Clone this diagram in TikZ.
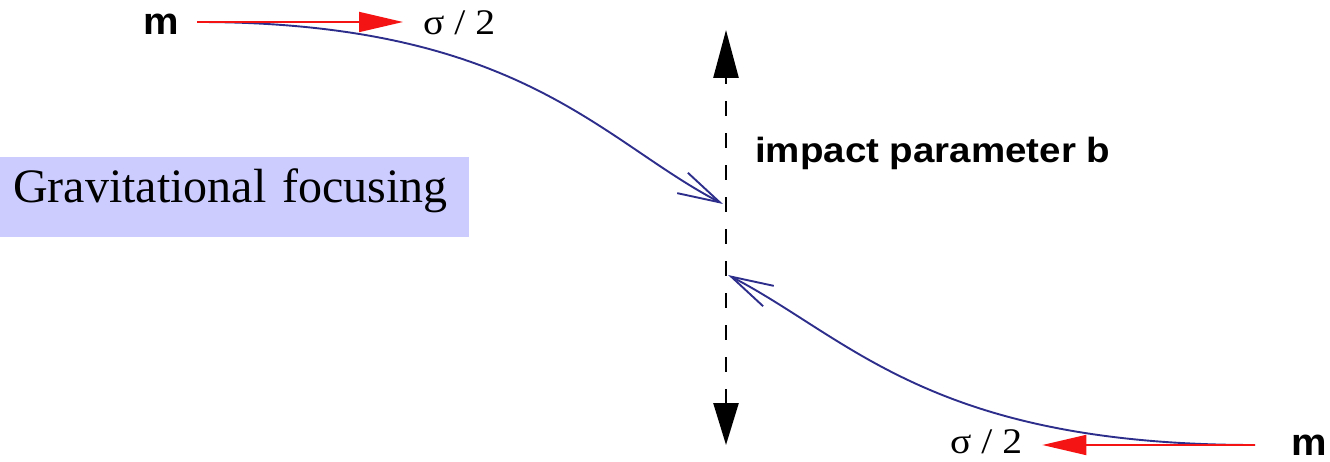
\documentclass[tikz,border=0pt]{standalone}
\usepackage{fontspec}
\setmainfont{Liberation Serif}
\setsansfont{Liberation Sans}
\usepackage{tikz}
\usetikzlibrary{calc,positioning,arrows.meta}
\definecolor{orbitBlue}{RGB}{45,45,140}
\definecolor{velRed}{RGB}{245,20,20}
\definecolor{focusBg}{RGB}{204,204,255}

\tikzset{
  mass/.style={font=\fontsize{38}{42}\selectfont\sffamily\bfseries, inner sep=0pt, anchor=base},
  vlab/.style={font=\fontsize{36}{40}\selectfont, inner sep=0pt, anchor=base west},
  orbit/.style={draw=orbitBlue, line width=1.9pt, -{Straight Barb[length=42pt,width=23pt]}},
  vel/.style={draw=velRed, line width=1.8pt, -{Triangle[length=44pt,width=20pt]}},
  bline/.style={line width=2.6pt, dash pattern=on 15pt off 17pt,
    {Triangle[length=42pt,width=25pt]}-{Triangle[length=48pt,width=25pt]}}
}

\begin{document}
\begin{tikzpicture}[x=1pt,y=-1pt]
  \useasboundingbox (0,0) rectangle (1330,462);
  % title box
  \node[fill=focusBg, anchor=north west, inner xsep=13pt, inner ysep=0pt,
    text width=443pt, align=left, minimum height=80pt, text height=30pt, text depth=20pt,
    font=\fontsize{48}{50}\selectfont] (focus) at (0,157) {Gravitational focusing};
  % masses and labels
  \node[mass] (mTop) at (161.5,35) {\scalebox{1.05}[1]{m}};
  \node[mass] (mBot) at (1309,455) {\scalebox{1.05}[1]{m}};
  \node[vlab] (sigTop) at (423,35) {\scalebox{1.1}[1]{σ / 2}};
  \node[vlab] (sigBot) at (950,453) {\scalebox{1.1}[1]{σ / 2}};
  \node[vlab, font=\fontsize{35}{38}\selectfont\sffamily\bfseries] (impact) at (755,163)
    {\scalebox{1.1}[1]{impact parameter b}};
  \coordinate (startTop) at (197,22);
  \coordinate (startBot) at (1255,445);
  \coordinate (hitTop) at (723,204);
  \coordinate (hitBot) at (728,275);
  \coordinate (bTop) at (726,30);
  \coordinate (bBot) at (726,445);
  % impact parameter
  \draw[bline] (bBot) -- (bTop);
  % trajectories
  \draw[orbit] (startTop) .. controls (520,22) and (600,140) .. (hitTop);
  \draw[orbit] (startBot) .. controls (932,445) and (851,339) .. (hitBot);
  % velocities
  \draw[vel] (startTop) -- ($(startTop -| sigTop.west)+(-20,0)$);
  \draw[vel] (startBot) -- ($(startBot -| sigBot.east)+(20,0)$);
\end{tikzpicture}
\end{document}
